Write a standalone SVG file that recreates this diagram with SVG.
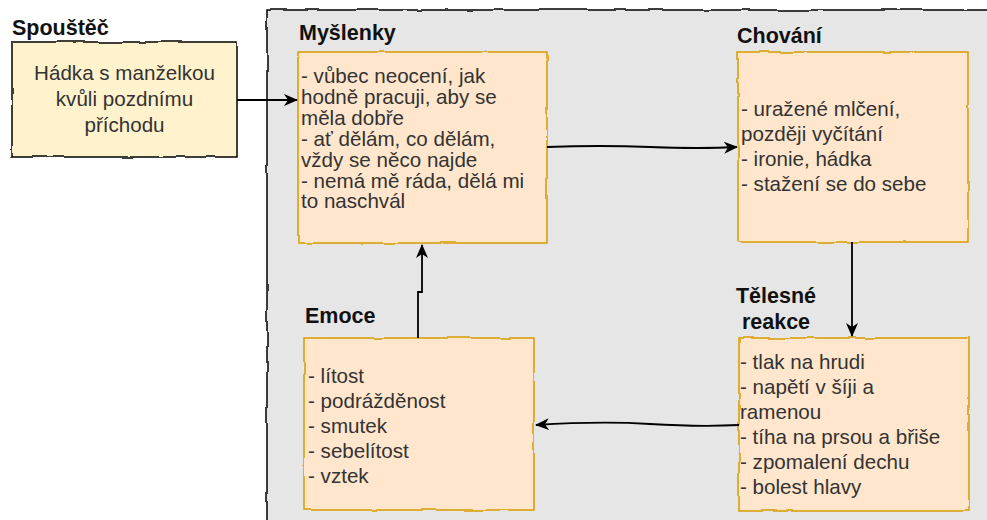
<svg xmlns="http://www.w3.org/2000/svg" width="987" height="520" viewBox="0 0 987 520">
<defs>
<filter id="rough" x="-5%" y="-5%" width="110%" height="110%">
<feTurbulence type="fractalNoise" baseFrequency="0.04" numOctaves="2" seed="3" result="n"/>
<feDisplacementMap in="SourceGraphic" in2="n" scale="3" xChannelSelector="R" yChannelSelector="G"/>
</filter>
<marker id="arr" viewBox="0 0 14 12" refX="13" refY="6" markerWidth="14" markerHeight="12" markerUnits="userSpaceOnUse" orient="auto">
<path d="M0,0 L14,6 L0,12 L4,6 Z" fill="#000"/>
</marker>
<style>
.hdr{font-family:"Liberation Sans",Arial,sans-serif;font-weight:bold;font-size:21.5px;fill:#111}
.txt{font-family:"Liberation Sans",Arial,sans-serif;font-size:20.6px;fill:#333}
.box{fill:#ffe6cc;stroke:#d79b00;stroke-width:1.5}
.con{fill:none;stroke:#000;stroke-width:1.8}
</style>
</defs>
<rect width="987" height="520" fill="#fff"/>
<g id="container">
<rect x="267" y="10" width="740" height="530" fill="#e6e6e6" stroke="#000" stroke-width="1.5" filter="url(#rough)"/>
</g>
<g id="spoustec">
<text class="hdr" x="12" y="35">Spouštěč</text>
<rect x="12" y="42" width="225" height="115" fill="#fff2cc" stroke="#000" stroke-width="1.5" filter="url(#rough)"/>
<text class="txt" text-anchor="middle" x="124.5"><tspan x="124.5" y="80">Hádka s manželkou</tspan><tspan x="124.5" y="106">kvůli pozdnímu</tspan><tspan x="124.5" y="132">příchodu</tspan></text>
</g>
<g id="myslenky">
<text class="hdr" x="299" y="40">Myšlenky</text>
<rect class="box" x="298" y="52" width="249" height="191" filter="url(#rough)"/>
<text class="txt"><tspan x="301" y="83">- vůbec neocení, jak</tspan><tspan x="301" y="104">hodně pracuji, aby se</tspan><tspan x="301" y="125">měla dobře</tspan><tspan x="301" y="146">- ať dělám, co dělám,</tspan><tspan x="301" y="167">vždy se něco najde</tspan><tspan x="301" y="188">- nemá mě ráda, dělá mi</tspan><tspan x="301" y="208">to naschvál</tspan></text>
</g>
<g id="chovani">
<text class="hdr" x="737" y="43">Chování</text>
<rect class="box" x="738" y="52" width="230" height="190" filter="url(#rough)"/>
<text class="txt"><tspan x="741" y="116">- uražené mlčení,</tspan><tspan x="741" y="141">později vyčítání</tspan><tspan x="741" y="166">- ironie, hádka</tspan><tspan x="741" y="191">- stažení se do sebe</tspan></text>
</g>
<g id="telesne">
<text class="hdr" text-anchor="middle"><tspan x="776" y="303">Tělesné</tspan><tspan x="776" y="329">reakce</tspan></text>
<rect class="box" x="739" y="338" width="230" height="173" filter="url(#rough)"/>
<text class="txt"><tspan x="740" y="369">- tlak na hrudi</tspan><tspan x="740" y="394">- napětí v šíji a</tspan><tspan x="740" y="419">ramenou</tspan><tspan x="740" y="444">- tíha na prsou a břiše</tspan><tspan x="740" y="469">- zpomalení dechu</tspan><tspan x="740" y="494">- bolest hlavy</tspan></text>
</g>
<g id="emoce">
<text class="hdr" x="305" y="323">Emoce</text>
<rect class="box" x="304" y="338" width="230" height="172" filter="url(#rough)"/>
<text class="txt"><tspan x="308" y="383">- lítost</tspan><tspan x="308" y="408">- podrážděnost</tspan><tspan x="308" y="433">- smutek</tspan><tspan x="308" y="458">- sebelítost</tspan><tspan x="308" y="483">- vztek</tspan></text>
</g>
<g id="connectors">
<path class="con" d="M237,100 L297,100" marker-end="url(#arr)"/>
<path class="con" d="M547,147 Q600,145 650,147 T737,147" marker-end="url(#arr)"/>
<path class="con" d="M852,242 L852,336" marker-end="url(#arr)"/>
<path class="con" d="M739,425 Q700,427 650,424 T536,425" marker-end="url(#arr)"/>
<path class="con" d="M418,338 L418,292 L422,292 L422,245" marker-end="url(#arr)"/>
</g>
</svg>
